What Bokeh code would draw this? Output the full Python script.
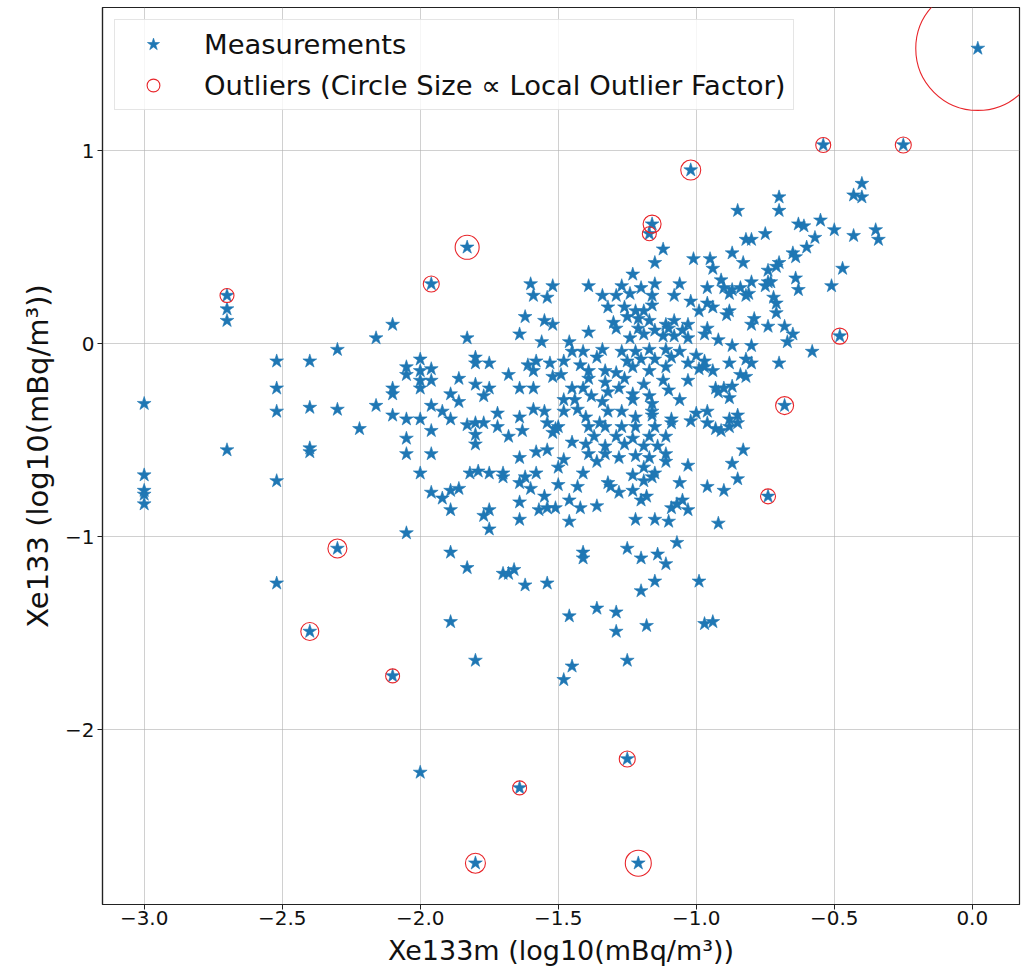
from bokeh.plotting import figure
from bokeh.models import ColumnDataSource, FixedTicker, Legend, LegendItem, Range1d
from bokeh.embed import file_html
from bokeh.resources import INLINE
import math

# ---- measurements (non-outlier points), log10(mBq/m3) ----
meas_x = [
    -2.70, -2.70, -2.10, -2.16, -2.30, -2.52, -2.40, -2.05, -2.05, -2.10, -2.10, -2.52, -3.00, -2.52, -2.40, -2.30,
    -2.16, -2.10, -2.05, -2.22, -2.05, -2.05, -2.70, -2.40, -2.40, -3.00, -3.00, -3.00, -3.00, -2.52, -2.05, -2.52,
    -1.89, -1.80, -1.46, -1.36, -1.29, -1.29, -1.18, -1.20, -1.45, -1.48, -1.25, -0.97, -0.94, -2.00,
    -1.12, -1.15, -1.23, -1.01, -1.60, -1.52, -1.59, -1.54,
    -0.40, -0.43, -0.40, -0.70, -0.70, -0.85, -0.63, -0.61, -0.55, -0.50, -0.43, -0.35, -0.34, -0.75, -0.82, -0.80,
    -0.57, -0.60, -0.87, -0.83, -0.65, -0.64, -0.70, -0.71, -0.74, -0.47, -0.95, -0.94, -0.64, -0.63, -0.51, -0.80,
    -0.74, -0.91, -0.90, -0.87, -0.84, -0.81, -0.75, -0.73, -0.96, -0.72,
    -0.88, -0.82, -0.71, -0.71, -0.96, -0.94, -0.88, -0.89, -0.79, -0.80, -0.74, -0.68, -0.65, -0.67, -0.96, -0.97,
    -0.92, -0.87, -0.80, -0.58, -0.70, -0.88, -0.82, -0.80, -0.97, -0.97, -0.94, -0.84, -0.82, -0.93, -0.90, -0.87,
    -0.92, -0.88, -0.96, -0.85, -0.88, -0.96, -0.93, -0.91, -0.88, -0.85, -0.83, -0.87, -0.85, -0.96, -0.90, -0.92,
    -0.99,
    -1.62, -1.55, -1.52, -1.64, -1.56, -1.83, -2.00, -2.00, -1.96, -2.00, -1.96, -2.00, -1.80, -1.80, -1.75, -1.86,
    -1.80, -1.75, -1.77, -1.89, -1.86, -1.68, -1.64, -1.59, -1.61, -1.58, -1.53, -1.52, -1.59, -1.96, -1.92, -1.89,
    -2.00, -1.96, -1.96, -2.00, -1.83, -1.80, -1.77, -1.80, -1.80, -1.72, -1.72, -1.68, -1.64, -1.63, -1.59, -1.55,
    -1.54, -1.52, -1.64, -1.58, -1.54, -1.82, -1.79, -1.75, -1.70, -1.70, -1.96, -1.92, -1.89, -1.86, -1.89, -1.77,
    -1.75, -1.75, -1.64, -1.62, -1.58, -1.60, -1.64, -1.64, -1.55, -1.57, -1.54, -1.51, -1.50, -1.46, -1.46, -1.42,
    -1.43, -1.36, -1.32, -1.31, -1.28, -1.23, -1.20, -1.18, -1.19, -1.16, -1.06, -1.22, -1.15, -1.10, -1.09, -1.07,
    -1.05, -1.03, -1.89, -1.83, -1.70, -1.68, -1.66, -1.62, -1.54, -1.41, -1.41, -1.25, -1.20, -1.14, -1.11, -1.07,
    -1.15,
    -1.39, -1.27, -1.20, -1.15, -1.06, -1.34, -1.29, -1.24, -1.16, -1.08, -1.02, -1.32, -1.26, -1.22, -1.19, -1.16,
    -0.99, -1.25, -1.21, -1.17, -1.30, -1.11, -1.08, -1.03, -1.29, -1.21, -1.15, -1.10, -1.05, -1.39, -1.19, -1.12,
    -1.08, -1.03, -1.24, -1.46, -1.45, -1.41, -1.34, -1.27, -1.22, -1.17, -1.11, -1.06, -1.00, -1.36, -1.25, -1.20,
    -1.15, -1.09, -1.48, -1.42, -1.39, -1.33, -1.29, -1.23, -1.17, -1.11, -1.03, -0.99, -1.49, -1.39, -1.26, -1.12,
    -1.03, -1.33, -1.19, -1.45, -1.41, -1.28, -1.10, -1.38, -1.32, -1.23, -1.17, -1.48, -1.44, -1.34, -1.23, -1.06,
    -1.16, -1.48, -1.43, -1.32, -1.27, -1.16, -1.00, -1.40, -1.22, -1.16, -1.09, -1.50, -1.39, -1.35, -1.33, -1.27,
    -1.22, -1.15, -1.09, -1.02, -1.37, -1.29, -1.23, -1.17, -1.11, -1.45, -1.40, -1.33, -1.26, -1.19, -1.14, -1.51,
    -1.48, -1.39, -1.33, -1.28, -1.22, -1.17, -1.11, -1.36, -1.03, -1.19, -1.11, -1.41, -1.15, -1.23, -1.50,
]
meas_y = [
    0.18, 0.12, 0.10, 0.03, -0.03, -0.09, -0.09, -0.12, -0.16, -0.23, -0.26, -0.23, -0.31, -0.35, -0.33, -0.34,
    -0.32, -0.37, -0.39, -0.44, -0.49, -0.57, -0.55, -0.54, -0.56, -0.68, -0.76, -0.78, -0.83, -0.71, -0.98, -1.24,
    -1.44, -1.64, -1.41, -1.37, -1.39, -1.49, -1.46, -1.28, -1.67, -1.74, -1.64, -1.45, -1.44, -2.22,
    0.49, 0.42, 0.36, 0.44, 0.31, 0.30, 0.25, 0.24,
    0.83, 0.77, 0.76, 0.76, 0.69, 0.69, 0.62, 0.61, 0.64, 0.59, 0.56, 0.59, 0.54, 0.57, 0.54, 0.54,
    0.55, 0.50, 0.47, 0.42, 0.47, 0.45, 0.42, 0.40, 0.38, 0.39, 0.44, 0.39, 0.34, 0.28, 0.30, 0.32,
    0.32, 0.33, 0.29, 0.28, 0.29, 0.26, 0.30, 0.32, 0.29, 0.24,
    0.26, 0.25, 0.21, 0.16, 0.21, 0.19, 0.17, 0.15, 0.13, 0.10, 0.09, 0.09, 0.05, 0.01, 0.08, 0.05,
    0.02, -0.01, -0.01, -0.04, -0.10, -0.10, -0.08, -0.10, -0.09, -0.12, -0.14, -0.16, -0.17, -0.23, -0.23, -0.22,
    -0.25, -0.28, -0.35, -0.37, -0.39, -0.41, -0.44, -0.45, -0.43, -0.41, -0.55, -0.62, -0.70, -0.74, -0.76, -0.93,
    -1.23,
    0.14, 0.12, 0.10, 0.05, 0.01, 0.03, -0.08, -0.14, -0.13, -0.19, -0.19, -0.23, -0.07, -0.10, -0.10, -0.18,
    -0.21, -0.23, -0.27, -0.26, -0.30, -0.16, -0.23, -0.23, -0.11, -0.09, -0.10, -0.17, -0.14, -0.32, -0.35, -0.39,
    -0.39, -0.45, -0.57, -0.67, -0.42, -0.41, -0.41, -0.47, -0.52, -0.36, -0.43, -0.48, -0.38, -0.45, -0.34, -0.35,
    -0.41, -0.46, -0.59, -0.56, -0.55, -0.67, -0.66, -0.67, -0.67, -0.69, -0.77, -0.80, -0.76, -0.75, -0.86, -0.89,
    -0.86, -0.96, -0.72, -0.69, -0.67, -0.75, -0.82, -0.91, -0.79, -0.86, -0.85, -0.85, -0.73, -0.92, -0.81, -0.85,
    -0.74, -0.84, -0.72, -0.74, -0.77, -0.76, -0.81, -0.79, -0.71, -0.69, -0.72, -0.91, -0.91, -0.92, -0.85, -0.83,
    -0.81, -0.86, -1.08, -1.16, -1.19, -1.19, -1.17, -1.25, -1.24, -1.08, -1.11, -1.06, -1.11, -1.09, -1.14, -1.03,
    -1.23,
    0.30, 0.30, 0.29, 0.31, 0.31, 0.25, 0.25, 0.26, 0.25, 0.25, 0.22, 0.19, 0.19, 0.17, 0.17, 0.20,
    0.17, 0.14, 0.13, 0.12, 0.11, 0.10, 0.12, 0.10, 0.08, 0.08, 0.07, 0.08, 0.07, 0.06, 0.05, 0.04,
    0.04, 0.03, 0.03, 0.01, -0.04, -0.04, -0.03, -0.04, -0.04, -0.03, -0.03, -0.04, -0.06, -0.07, -0.09, -0.08,
    -0.08, -0.07, -0.09, -0.11, -0.14, -0.14, -0.15, -0.12, -0.14, -0.12, -0.10, -0.13, -0.16, -0.18, -0.18, -0.19,
    -0.19, -0.20, -0.21, -0.23, -0.23, -0.23, -0.24, -0.27, -0.25, -0.26, -0.27, -0.29, -0.29, -0.30, -0.29, -0.29,
    -0.31, -0.35, -0.34, -0.35, -0.35, -0.35, -0.36, -0.38, -0.38, -0.37, -0.39, -0.43, -0.43, -0.41, -0.43, -0.43,
    -0.43, -0.43, -0.41, -0.40, -0.48, -0.48, -0.49, -0.48, -0.48, -0.51, -0.52, -0.53, -0.52, -0.53, -0.53, -0.44,
    -0.60, -0.57, -0.57, -0.59, -0.58, -0.59, -0.57, -0.61, -0.63, -0.64, -0.61, -0.67, -0.67, -0.68, -0.64,
]

# ---- outliers with their local outlier factor ----
out_x = [0.02, -0.54, -0.25, -1.02, -1.16, -1.17, -1.83, -1.96, -2.70, -0.48, -0.68, -0.74, -2.30, -2.40, -2.10,
         -1.64, -1.25, -1.80, -1.21]
out_y = [1.53, 1.03, 1.03, 0.90, 0.62, 0.57, 0.50, 0.31, 0.25, 0.04, -0.32, -0.79, -1.06, -1.49, -1.72,
         -2.30, -2.15, -2.69, -2.69]
out_lof = [154.0, 2.25, 2.56, 4.0, 3.24, 1.96, 5.76, 2.56, 1.96, 2.56, 3.24, 2.25, 3.61, 3.24, 1.96,
           1.96, 2.56, 4.0, 6.76]

x_ticks = [-3.0, -2.5, -2.0, -1.5, -1.0, -0.5, 0.0]
x_tick_labels = ["\u22123.0", "\u22122.5", "\u22122.0", "\u22121.5", "\u22121.0", "\u22120.5", "0.0"]
y_ticks = [-2, -1, 0, 1]
y_tick_labels = ["\u22122", "\u22121", "0", "1"]

x_label = "Xe133m (log10(mBq/m\u00b3))"
y_label = "Xe133 (log10(mBq/m\u00b3))"
legend_labels = ["Measurements", "Outliers (Circle Size \u221d Local Outlier Factor)"]

FONT = "DejaVu Sans"
BLUE = "#1f77b4"
RED = "#e8252a"

p = figure(frame_width=917, frame_height=897,
           x_range=Range1d(-3.151, 0.171), y_range=Range1d(-2.904, 1.742),
           output_backend="svg", toolbar_location=None,
           min_border_left=102, min_border_right=3, min_border_top=7, min_border_bottom=64)
p.background_fill_color = "white"
p.border_fill_color = "white"
p.outline_line_color = "#222222"
p.outline_line_width = 1.2

all_x = meas_x + out_x
all_y = meas_y + out_y
src_m = ColumnDataSource(dict(x=all_x, y=all_y))
src_o = ColumnDataSource(dict(x=out_x, y=out_y, d=[10.0 * math.sqrt(v) for v in out_lof]))

stars = p.scatter("x", "y", source=src_m, marker="star", size=14.5,
                  fill_color=BLUE, line_color=BLUE, line_width=0.6)
circles = p.scatter("x", "y", source=src_o, marker="circle", size="d",
                    fill_color=None, line_color=RED, line_width=1.1)

for ax, ticks, labels in ((p.xaxis[0], x_ticks, x_tick_labels), (p.yaxis[0], y_ticks, y_tick_labels)):
    ax.ticker = FixedTicker(ticks=ticks)
    ax.major_label_overrides = {t: l for t, l in zip(ticks, labels)}
    ax.minor_tick_line_color = None
    ax.major_tick_in = 0
    ax.major_tick_out = 5
    ax.major_tick_line_color = "#222222"
    ax.axis_line_color = "#222222"
    ax.axis_line_width = 1.2
    ax.major_label_text_font = FONT
    ax.major_label_text_font_size = "20px"
    ax.major_label_text_color = "#111111"
    ax.axis_label_text_font = FONT
    ax.axis_label_text_font_style = "normal"
    ax.axis_label_text_color = "#111111"

p.xaxis.axis_label = x_label
p.yaxis.axis_label = y_label
p.xaxis.axis_label_text_font_size = "27px"
p.yaxis.axis_label_text_font_size = "29px"
p.xaxis.major_label_standoff = 1
p.yaxis.major_label_standoff = 3
p.xaxis.axis_label_standoff = 7
p.yaxis.axis_label_standoff = 7

p.grid.grid_line_color = "#b0b0b0"
p.grid.grid_line_alpha = 0.6
p.grid.grid_line_width = 1

legend = Legend(items=[LegendItem(label=legend_labels[0], renderers=[stars]),
                       LegendItem(label=legend_labels[1], renderers=[circles])],
                location="top_left")
legend.margin = 12
legend.padding = 8
legend.spacing = 9
legend.glyph_width = 60
legend.glyph_height = 32
legend.label_height = 32
legend.label_standoff = 21
legend.label_text_font = FONT
legend.label_text_font_size = "27.4px"
legend.label_text_color = "#111111"
legend.border_line_color = "#cccccc"
legend.border_line_width = 1
legend.background_fill_color = "white"
legend.background_fill_alpha = 0.8
p.add_layout(legend)

open("out.html", "w").write(file_html(p, INLINE))
